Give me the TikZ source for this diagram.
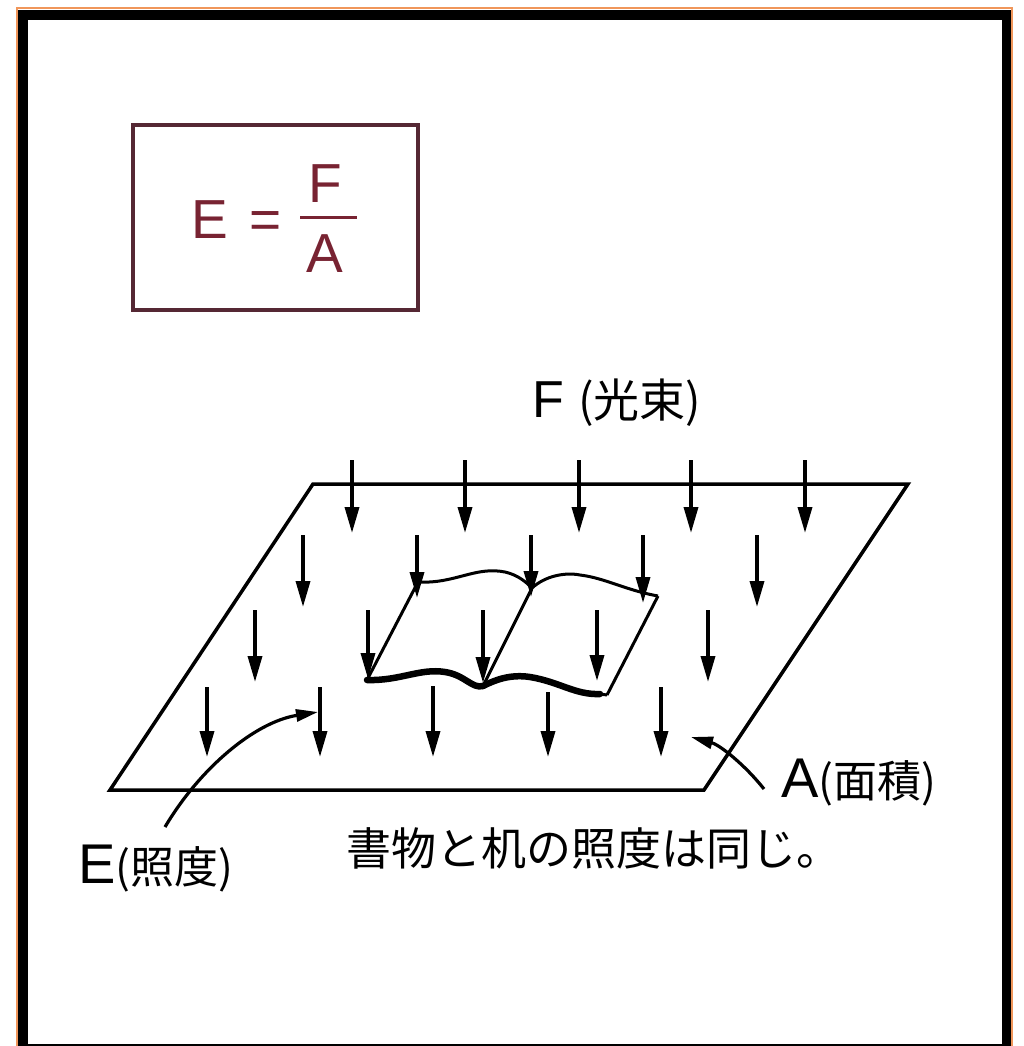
\documentclass[tikz,border=0pt]{standalone}
\usepackage{fontspec}
\setmainfont{Liberation Sans}
\newfontfamily\jp{Noto Sans CJK JP}
\usetikzlibrary{arrows.meta}
\definecolor{frameorange}{RGB}{240,150,90}
\definecolor{formulaink}{RGB}{120,35,50}
\definecolor{formulabox}{RGB}{85,40,52}
\newcommand{\jpsz}{\jp\fontsize{44pt}{48pt}\selectfont}
\begin{document}
\begin{tikzpicture}[x=1pt,y=-1pt,
  ray/.style={line width=3.5pt,-{Triangle[length=26pt,width=14pt]}},
  pointer/.style={line width=3.2pt,-{Triangle[length=22pt,width=12pt]}},
  desk/.style={line width=3.5pt,line join=miter},
  pageline/.style={line width=3pt,line join=round},
  binding/.style={line width=6.5pt,line cap=round,line join=round},
  fml/.style={inner sep=0pt,anchor=base west,text=formulaink,
    font=\fontsize{55pt}{60pt}\selectfont},
  lbl/.style={inner sep=0pt,anchor=base west,
    font=\fontsize{56pt}{60pt}\selectfont},
  jplbl/.style={inner sep=0pt,anchor=base west,font=\jpsz},
]
\useasboundingbox (0,0) rectangle (1023,1046);
\clip (0,0) rectangle (1023,1046);
\fill[white] (0,0) rectangle (1023,1046);

% outer frame
\draw[frameorange,line width=2pt] (17,8.5) rectangle (1012,1070);
\draw[black,line width=9.5pt] (23,15) rectangle (1006.5,1049);

% formula box
\draw[formulabox,line width=3.2pt] (133,125) rectangle (418,310);
\node[fml] (fE) at (191,238) {E};
\node[fml] (feq) at (249,238) {=};
\node[fml] (fF) at (308,202) {F};
\draw[formulaink,line width=3pt] (300,217) -- (357,217);
\node[fml] (fA) at (306,272) {A};

% desk surface
\draw[desk] (313,484) -- (908,484) -- (704,790) -- (110,790) -- cycle;

% open book
\coordinate (TL) at (418,582);
\coordinate (ST) at (532,588);
\coordinate (TR) at (658,596);
\coordinate (BL) at (367,680);
\coordinate (SB) at (483,686);
\coordinate (BR) at (607,695);
\draw[pageline] (TL) .. controls (455,584) and (475,566) .. (505,572)
  .. controls (518,575) and (526,582) .. (ST);
\draw[pageline] (ST) .. controls (545,576) and (565,572) .. (580,575)
  .. controls (605,578) and (625,590) .. (TR);
\draw[pageline] (TL) -- (BL);
\draw[pageline] (ST) -- (SB);
\draw[pageline] (TR) -- (BR);
\draw[binding] (BL) .. controls (400,681) and (420,668) .. (445,672)
  .. controls (465,675) and (472,689) .. (SB);
\draw[binding] (SB) .. controls (495,680) and (510,674) .. (530,677)
  .. controls (560,682) and (575,695) .. (600,694);
\draw[pageline] (600,694) -- (BR);

% luminous flux rays
\foreach \x/\ya/\yb in {352/460/533, 465/460/533, 579/460/533, 691/460/533, 805/460/533,
  303/535/607, 417/535/598, 531/535/597, 643/535/603, 757/535/607,
  255/610/682, 368/610/679, 483/610/683, 597/610/681, 708/610/682,
  207/687/757, 320/687/757, 433/686/757, 548/692/757, 661/687/757}
  \draw[ray] (\x,\ya) -- (\x,\yb);

% labels
\node[jplbl,font=\jp\fontsize{46pt}{50pt}\selectfont] (flux) at (532,417)
  {{\fontspec{Liberation Sans}\fontsize{52pt}{56pt}\selectfont F }(光束)};
\node[lbl] (illum) at (78,883) {E{\jpsz(照度)}};
\node[lbl] (area) at (781,797) {A{\jpsz(面積)}};
\node[jplbl,font=\jp\fontsize{45pt}{50pt}\selectfont] (note) at (346,865) {書物と机の照度は同じ。};

% pointers from the labels
\coordinate (Efoot) at (165,827);
\coordinate (Etip) at (318,712);
\coordinate (Afoot) at (764,789);
\coordinate (Atip) at (691,737);
\draw[pointer] (Efoot) .. controls (200,768) and (255,722) .. (Etip);
\draw[pointer] (Afoot) .. controls (745,765) and (720,745) .. (Atip);
\end{tikzpicture}
\end{document}
